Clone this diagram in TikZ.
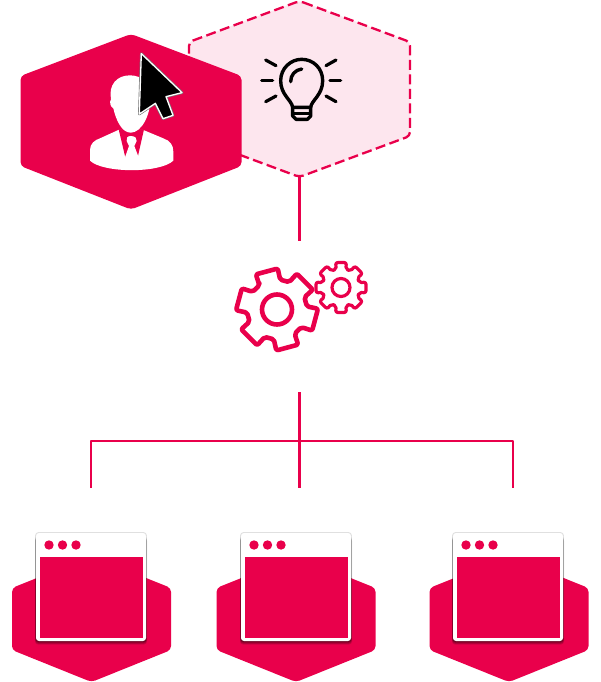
\documentclass[tikz,border=0pt]{standalone}
\definecolor{brandred}{HTML}{E9004B}
\definecolor{brandpink}{HTML}{FDE6EE}
\tikzset{
  link/.style={draw=brandred,line width=2.4pt},
  gearline/.style={draw=brandred,line join=round,rounded corners=2pt},
  rayline/.style={draw=black,line width=3.2pt,line cap=round},
  bulbline/.style={draw=black,line width=3.4pt,line join=round},
  hexfill/.style={fill=brandred,rounded corners=4pt},
}
\begin{document}
\begin{tikzpicture}[x=1pt,y=-1pt]
\useasboundingbox (0,0) rectangle (600,682);
% named ends of the connectors
\coordinate (bulbtip) at (299.5,177);
\coordinate (hubin) at (299.5,241);
\coordinate (hubout) at (299.5,392);
\coordinate (busleft) at (91,441);
\coordinate (busmid) at (299.5,441);
\coordinate (busright) at (513,441);
\coordinate (appa) at (91,488);
\coordinate (appb) at (299.5,488);
\coordinate (appc) at (513,488);
% connectors
\draw [link] (bulbtip) -- (hubin);
\draw [link] (hubout) -- (appb);
\draw [link,line join=round] (appa) -- (busleft) -- (busright) -- (appc);
% hexagon with the bulb
\draw [brandpink,fill=brandpink,rounded corners=4pt] (299.5,1) -- (410,42) -- (410,136) -- (299.5,177) -- (189,136) -- (189,42) -- cycle;
\draw [brandred,line width=2.3pt,dash pattern=on 10pt off 4.5pt,rounded corners=4pt] (299.5,1) -- (410,42) -- (410,136) -- (299.5,177) -- (189,136) -- (189,42) -- cycle;
% hexagon with the person
\fill [hexfill] (131,34) -- (241.5,76) -- (241.5,166) -- (131,209.5) -- (20.5,166) -- (20.5,76) -- cycle;
% person
\begin{scope}[shift={(80,40)},scale=1/3]
\fill [white] (30,330) .. controls (30,310) and (45,300) .. (60,295) -- (115,270) -- (190,270) -- (250,295) .. controls (270,302) and (280,315) .. (280,335) -- (280,362) .. controls (240,400) and (70,400) .. (30,362) -- cycle;
\fill [brandred] (116,268) -- (192,268) -- (173,352) -- (155,332) -- (136,352) -- cycle;
\fill [white] (152,288) .. controls (165,288) and (172,295) .. (170,303) -- (163,318) -- (176,352) -- (155,362) -- (135,352) -- (147,318) -- (140,303) .. controls (138,295) and (142,288) .. (152,288) -- cycle;
\fill [white] (150,106) .. controls (185,106) and (212,130) .. (212,170) .. controls (212,225) and (185,278) .. (152,278) .. controls (125,278) and (108,240) .. (100,205) .. controls (90,200) and (88,185) .. (93,178) .. controls (85,135) and (110,106) .. (150,106) -- cycle;
% cursor
\draw [black!55,line width=2.6pt,line join=round] (184,41) -- (306,158) -- (258,170) -- (279,226) -- (249,236) -- (226,190) -- (178,222) -- cycle;
\draw [white,fill=black,line width=1.3pt,line join=round] (184,41) -- (306,158) -- (258,170) -- (279,226) -- (249,236) -- (226,190) -- (178,222) -- cycle;
\end{scope}
% bulb
\begin{scope}[shift={(250,50)},scale=1/3]
\draw [bulbline] (128,172) .. controls (125,150) and (92,135) .. (92,92) .. controls (92,55) and (122,28) .. (155,28) .. controls (190,28) and (218,55) .. (218,92) .. controls (218,135) and (185,150) .. (182,172) -- cycle;
\draw [bulbline] (128,172) -- (128,198) -- (138,208) -- (172,208) -- (182,198) -- (182,172);
\draw [bulbline] (128,190) -- (182,190);
\draw [bulbline,line cap=round] (122,95) .. controls (122,75) and (135,60) .. (155,57);
\draw [rayline] (47,30) -- (78,47);
\draw [rayline] (35,92) -- (68,92);
\draw [rayline] (47,155) -- (78,138);
\draw [rayline] (258,30) -- (228,47);
\draw [rayline] (240,92) -- (272,92);
\draw [rayline] (258,155) -- (228,138);
\end{scope}
% gears
\begin{scope}[shift={(277,309.5)}]
\draw [gearline,line width=4.6pt] (-126:30) \foreach \t in {-105,-45,...,195} { -- ({\t-21}:30) -- ({\t-16}:41) -- ({\t+16}:41) -- ({\t+21}:30) } -- cycle;
\draw [brandred,line width=4.6pt] (0,0) circle (15);
\end{scope}
\begin{scope}[shift={(341,287.5)}]
\draw [gearline,line width=3.2pt] (-105:19) \foreach \t in {-90,-45,...,225} { -- ({\t-15}:19) -- ({\t-12}:25.5) -- ({\t+12}:25.5) -- ({\t+15}:19) } -- cycle;
\draw [brandred,line width=3.2pt] (0,0) circle (9);
\end{scope}
% three windows on their hexagons
\foreach \hx/\wx in {91.5/36,296/241,509/453} {
  \fill [hexfill] (\hx,556) -- (\hx+79.5,588) -- (\hx+79.5,650) -- (\hx,682) -- (\hx-79.5,650) -- (\hx-79.5,588) -- cycle;
  \fill [black,opacity=0.12,rounded corners=3pt] (\wx-0.8,532.2) rectangle (\wx+110.8,642);
  \foreach \s in {1,...,5}
    \fill [black,opacity=0.12,rounded corners=3pt] (\wx-0.2*\s,533+\s) rectangle (\wx+110+0.2*\s,641+0.7*\s);
  \fill [white,rounded corners=3pt] (\wx,533) rectangle (\wx+110,641);
  \fill [brandred] (\wx+3.5,557) rectangle (\wx+107,638);
  \foreach \d in {13,26.5,40}
    \fill [brandred] (\wx+\d,545) circle (4.7);
}
\end{tikzpicture}
\end{document}
